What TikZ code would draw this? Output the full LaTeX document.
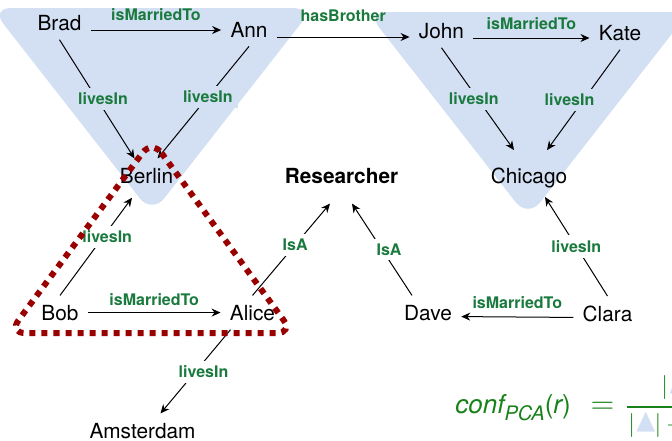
\documentclass[tikz,border=0pt]{standalone}
\usepackage{amssymb}
\usepackage{xcolor}
\usepackage{graphicx}
\usepackage[no-math]{fontspec}
\setmainfont{TeX Gyre Heros}
\usepackage{tikz}
\usetikzlibrary{arrows.meta}

\definecolor{tribg}{RGB}{211,224,243}
\definecolor{relgreen}{RGB}{26,122,62}
\definecolor{confgreen}{RGB}{24,130,24}
\definecolor{candred}{RGB}{153,0,0}

\newcommand{\settri}{\kern-0.5pt\textcolor{tribg}{\scalebox{1.25}{$\blacktriangle$}}\kern-1.5pt}

\begin{document}
\begin{tikzpicture}[
    x=0.5pt, y=-0.5pt,
    ent/.style={anchor=base, inner sep=4.5pt, font=\fontsize{10.4}{12}\selectfont},
    cls/.style={ent, font=\fontsize{10.4}{12}\selectfont\bfseries},
    rel/.style={font=\fontsize{8}{9.6}\selectfont\bfseries, text=relgreen, inner sep=2.5pt},
    relw/.style={rel, fill=white},
    relb/.style={rel, fill=tribg},
    arr/.style={-{Stealth[length=4.5pt, width=4pt]}, line width=0.5pt},
    grp/.style={fill=tribg, rounded corners=10pt},
    candbox/.style={draw=candred, line width=3pt, dash pattern=on 3pt off 3pt, rounded corners=8pt},
    conftext/.style={text=confgreen, inner sep=0pt, font=\fontsize{13}{15.6}\selectfont}
]
\useasboundingbox (0,0) rectangle (672,440);
\clip (0,0) rectangle (672,440);

\fill[grp] (-9,8) -- (313,8) -- (152,214) -- cycle;
\fill[grp] (367,12) -- (689,12) -- (528,218) -- cycle;

\node[ent] (brad)       at (59.5,30)  {Brad};
\node[ent] (ann)        at (249,37)   {Ann};
\node[ent] (john)       at (441.5,38) {John};
\node[ent] (kate)       at (620,40)   {Kate};
\node[ent] (berlin)     at (146.5,183) {Berlin};
\node[cls] (researcher) at (341.5,183) {Researcher};
\node[ent] (chicago)    at (529,183)  {Chicago};
\node[ent] (bob)        at (60,320)   {Bob};
\node[ent] (alice)      at (252.5,320) {Alice};
\node[ent] (dave)       at (428,320)  {Dave};
\node[ent] (clara)      at (607.5,321) {Clara};
\node[ent] (amsterdam)  at (142.5,438) {Amsterdam};

\draw[arr] (brad.base east) -- (brad.base east -| ann.west) node[midway, above=2pt, rel] {isMarriedTo};
\draw[arr] (ann.base east) -- (ann.base east -| john.west) node[midway, above=5pt, rel] {hasBrother};
\draw[arr] (john.base east) -- (john.base east -| kate.west) node[midway, above=1.5pt, rel] {isMarriedTo};
\draw[arr] (bob.east) -- (bob.east -| alice.west) node[midway, above=0.5pt, rel] {isMarriedTo};
\draw[arr] ([yshift=-2pt]clara.west) -- ([yshift=-2pt]dave.east) node[midway, above=1.5pt, rel] {isMarriedTo};

\draw[arr] (brad.south) -- ([xshift=-6pt]berlin.north) node[midway, relb, xshift=3pt] {livesIn};
\draw[arr] (ann.south) -- ([xshift=5.5pt]berlin.north) node[pos=0.45, relb] {livesIn};
\draw[arr] (john.south) -- ([xshift=-7.5pt, yshift=4pt]chicago.north) node[midway, relb, xshift=-2pt] {livesIn};
\draw[arr] (kate.south) -- ([xshift=9pt, yshift=4pt]chicago.north) node[midway, relb, xshift=-7pt] {livesIn};
\draw[arr] (bob.north) -- ([xshift=-7.25pt, yshift=-2.5pt]berlin.south) node[pos=0.6, relw, xshift=2pt] {livesIn};
\draw[arr] (alice.north) -- ([xshift=-5.75pt, yshift=-5.5pt]researcher.south) node[pos=0.55, relw] {IsA};
\draw[arr] ([xshift=-8pt]dave.north) -- ([xshift=5.25pt, yshift=-5.5pt]researcher.south) node[midway, relw, xshift=3.5pt] {IsA};
\draw[arr] (clara.north) -- ([xshift=8pt]chicago.south) node[midway, relw] {livesIn};
\draw[arr] ([xshift=-11pt]alice.south) -- ([xshift=9pt]amsterdam.north) node[midway, relw, xshift=4pt] {livesIn};

\draw[candbox] (152,140) -- (293,333) -- (9,333) -- cycle;

\node[conftext, anchor=base west] (conf) at (455,413)
  {\itshape conf\raisebox{-3.5pt}{\fontsize{10}{12}\selectfont PCA}\upshape(\itshape r\upshape)\hspace{10pt}\scalebox{1.3}{$=$}};
\draw[confgreen, line width=0.6pt] (627,407) -- (680,407);
\node[conftext, anchor=base west] (num) at (661,393.5) {$|$\settri};
\node[conftext, anchor=base west] (den) at (628,431.5) {$|$\settri$|+{}$};
\end{tikzpicture}
\end{document}
